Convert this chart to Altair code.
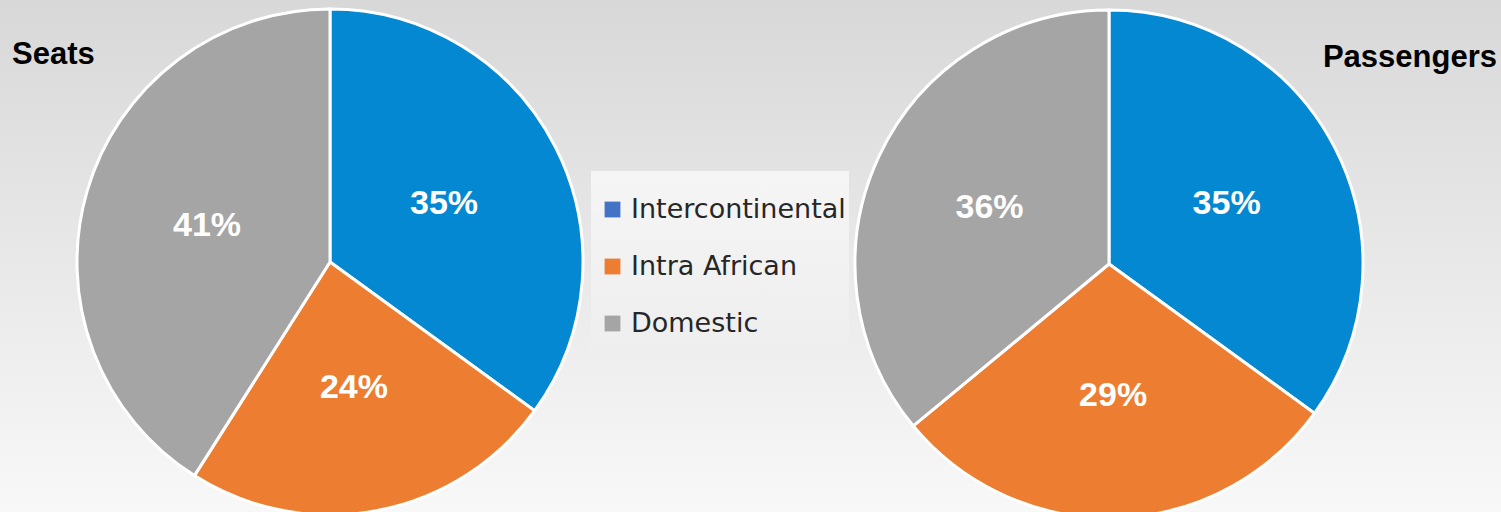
import altair as alt
import pandas as pd

categories = ["Intercontinental", "Intra African", "Domestic"]
seats = [35, 24, 41]
passengers = [35, 29, 36]
pie_colors = ["#0388D1", "#ED7D31", "#A5A5A5"]
legend_colors = ["#4472C4", "#ED7D31", "#A5A5A5"]
panel_titles = ["Seats", "Passengers"]

W, H = 1501, 512

df = pd.DataFrame({
    "category": categories * 2,
    "value": seats + passengers,
    "panel": [panel_titles[0]] * 3 + [panel_titles[1]] * 3,
    "order": [0, 1, 2] * 2,
})
df["label"] = df["value"].astype(str) + "%"

one = pd.DataFrame({"a": [0]})

bg = alt.Chart(one).mark_rect(
    fill=alt.LinearGradient(
        gradient="linear",
        stops=[alt.GradientStop(offset=0, color="#d8d8d8"),
               alt.GradientStop(offset=1, color="#f8f8f8")],
        x1=0, x2=0, y1=0, y2=1,
    )
).encode(x=alt.value(0), x2=alt.value(W), y=alt.value(0), y2=alt.value(H))

legend_box = alt.Chart(one).mark_rect(
    fill=alt.LinearGradient(
        gradient="linear",
        stops=[alt.GradientStop(offset=0, color="#f5f5f5"),
               alt.GradientStop(offset=1, color="#eeeeee")],
        x1=0, x2=0, y1=0, y2=1,
    )
).encode(x=alt.value(591), x2=alt.value(849), y=alt.value(171), y2=alt.value(355))

color_pie = alt.Color("category:N", scale=alt.Scale(domain=categories, range=pie_colors), legend=None)


def pie(panel, cx, cy, r, lr):
    base = alt.Chart(df).transform_filter(alt.datum.panel == panel)
    arc = base.mark_arc(outerRadius=r, stroke="white", strokeWidth=3).encode(
        theta=alt.Theta("value:Q", stack=True),
        color=color_pie,
        order=alt.Order("order:Q"),
        x=alt.value(cx), y=alt.value(cy),
    )
    txt = base.mark_text(radius=lr, fontSize=34, fontWeight="bold", color="white",
                         font="Liberation Sans").encode(
        theta=alt.Theta("value:Q", stack=True),
        text="label:N",
        order=alt.Order("order:Q"),
        x=alt.value(cx), y=alt.value(cy),
    )
    return arc + txt


left = pie(panel_titles[0], 330, 262, 253, 128)
right = pie(panel_titles[1], 1109, 264, 254, 132)

t_left = alt.Chart(pd.DataFrame({"t": [panel_titles[0]]})).mark_text(
    align="left", baseline="middle", fontSize=31, fontWeight="bold", font="Liberation Sans", color="black"
).encode(text="t:N", x=alt.value(12), y=alt.value(55))
t_right = alt.Chart(pd.DataFrame({"t": [panel_titles[1]]})).mark_text(
    align="right", baseline="middle", fontSize=31, fontWeight="bold", font="Liberation Sans", color="black"
).encode(text="t:N", x=alt.value(1497), y=alt.value(58))

legend_layer = alt.Chart(pd.DataFrame({"category": categories})).mark_square(size=100, opacity=1).encode(
    color=alt.Color("category:N", scale=alt.Scale(domain=categories, range=legend_colors),
                    legend=alt.Legend(title=None, orient="none", legendX=599, legendY=196,
                                      symbolType="square", symbolSize=250, symbolStrokeWidth=0,
                                      labelFontSize=27, labelFont="DejaVu Sans", labelColor="#262626",
                                      labelLimit=400, padding=0, rowPadding=29, labelOffset=5)),
    x=alt.value(-100), y=alt.value(-100),
)

chart = alt.layer(bg, legend_box, left, right, t_left, t_right, legend_layer).resolve_scale(
    color="independent"
).properties(
    width=W, height=H, autosize=alt.AutoSizeParams(type="none"), padding=0
).configure_view(stroke=None)

chart.save("out.html", embed_options={"renderer": "svg", "actions": False})
